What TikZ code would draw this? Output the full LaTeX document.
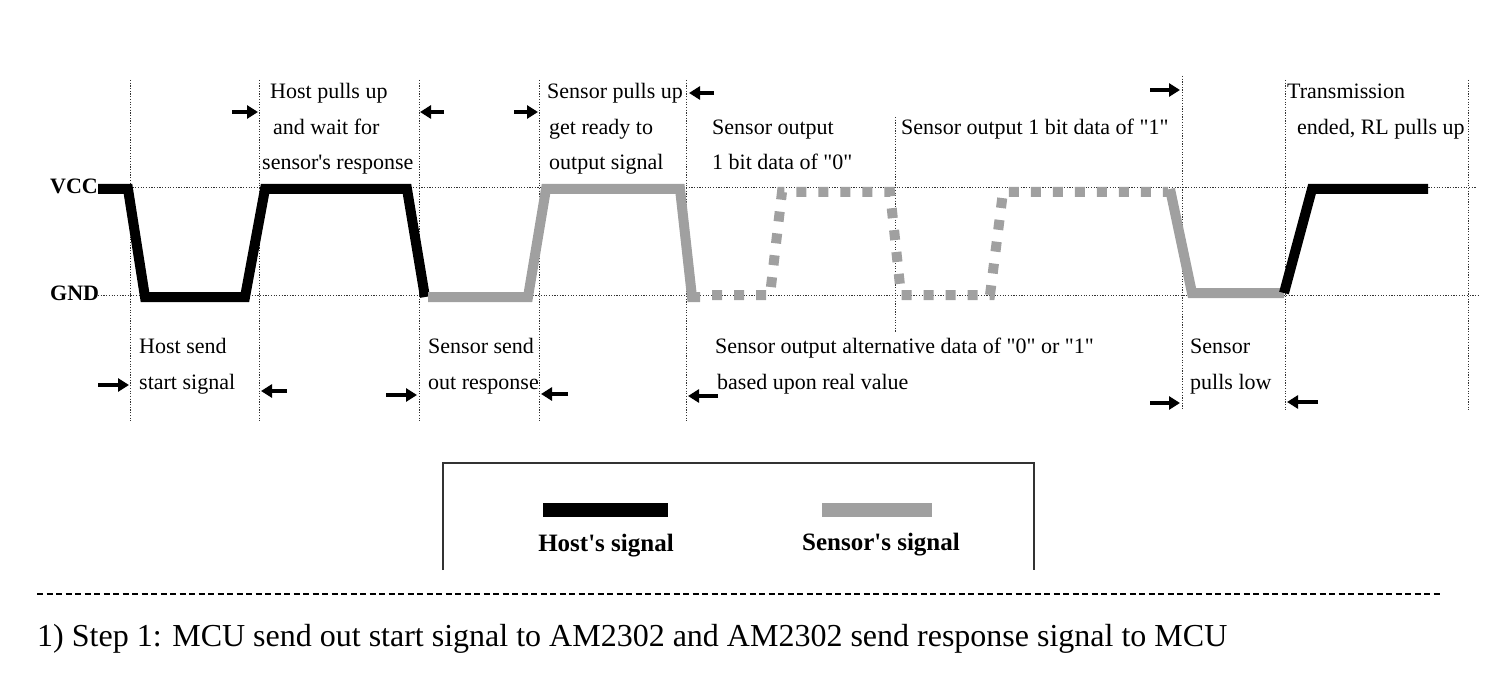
\documentclass[tikz,border=0pt]{standalone}
\usepackage{fontspec}
\setmainfont{Liberation Serif}
\usetikzlibrary{arrows.meta}
\definecolor{sgray}{RGB}{160,160,160}
\newcommand{\lbf}{\fontsize{22}{26}\selectfont}
\newcommand{\qq}{\textquotedbl}
\begin{document}
\begin{tikzpicture}[x=1pt,y=-1pt,
 host/.style={line width=10pt,black},
 sens/.style={line width=10pt,sgray},
 sensdot/.style={line width=10pt,sgray,dash pattern=on 10pt off 12pt},
 guide/.style={line width=0.9pt,black!80,dash pattern=on 1.2pt off 1.5pt},
 lbl/.style={anchor=base west,inner sep=0pt,font=\lbf},
 lvl/.style={anchor=base west,inner sep=0pt,font=\bfseries\fontsize{22}{26}\selectfont},
 darr/.style={line width=3.6pt,-{Triangle[length=11pt,width=13pt]}},
 leg/.style={anchor=base,inner sep=0pt,font=\bfseries\fontsize{25}{30}\selectfont},
]
\useasboundingbox (0,0) rectangle (1498,676);
% guides
\foreach \x/\a/\b in {130/80/422, 259/80/422, 419/80/422, 539/80/422, 686/80/422, 895/117/332, 1182/76/410, 1285/80/410, 1468/80/410}
  \draw[guide] (\x,\a) -- (\x,\b);
\node[lvl] (vcc) at (50,194) {VCC};
\node[lvl] (gnd) at (50,300) {GND};
\draw[guide] (100,187) -- (1476,187);
\draw[guide] (98,295) -- (1480,295);
% signals
\draw[host] (98,189) -- (128,189) -- (145,297) -- (245,297) -- (265,189) -- (407,189) -- (425,297);
\draw[sens] (428,297) -- (528,297) -- (546,189) -- (680,189) -- (692,297) -- (700,297);
\draw[sensdot] (712,295) -- (770,295) -- (782,192) -- (890,192) -- (901,295) -- (990,295) -- (1003,192) -- (1168,192);
\draw[sens] (1170,189) -- (1192,293) -- (1284,293);
\draw[host] (1284,293) -- (1312,189) -- (1428,189);
% arrows
\draw[darr] (232,112) -- (258,112);
\draw[darr] (444,112) -- (420,112);
\draw[darr] (514,112) -- (538,112);
\draw[darr] (714,93) -- (689,93);
\draw[darr] (1150,90) -- (1180,90);
\draw[darr] (98,385) -- (129,385);
\draw[darr] (287,391) -- (261,391);
\draw[darr] (386,395) -- (417,395);
\draw[darr] (568,394) -- (541,394);
\draw[darr] (718,396) -- (688,396);
\draw[darr] (1150,403) -- (1180,403);
\draw[darr] (1318,402) -- (1287,402);
% labels top
\node[lbl] (a1) at (270,99) {Host pulls up};
\node[lbl] (a2) at (273,135) {and wait for};
\node[lbl] (a3) at (262,170) {sensor\textquotesingle s response};
\node[lbl] (b1) at (547,99) {Sensor pulls up};
\node[lbl] (b2) at (549,135) {get ready to};
\node[lbl] (b3) at (549,170) {output signal};
\node[lbl] (c1) at (712,135) {Sensor output};
\node[lbl] (c2) at (712,170) {1 bit data of \qq0\qq};
\node[lbl] (d1) at (901,135) {Sensor output 1 bit data of \qq1\qq};
\node[lbl] (e1) at (1287,99) {Transmission};
\node[lbl] (e2) at (1297,135) {ended, RL pulls up};
% labels bottom
\node[lbl] (f1) at (139,353) {Host send};
\node[lbl] (f2) at (139,389) {start signal};
\node[lbl] (g1) at (428,353) {Sensor send};
\node[lbl] (g2) at (428,389) {out response};
\node[lbl] (h1) at (715,353) {Sensor output alternative data of \qq0\qq\ or \qq1\qq};
\node[lbl] (h2) at (717,389) {based upon real value};
\node[lbl] (k1) at (1190,353) {Sensor};
\node[lbl] (k2) at (1190,389) {pulls low};
% legend
\draw[line width=1.6pt,black!80] (443,570) -- (443,463) -- (1034,463) -- (1034,570);
\fill[black] (543,503) rectangle (668,517);
\fill[sgray] (822,503) rectangle (932,517);
\node[leg] (l1) at (606,551) {Host\textquotesingle s signal};
\node[leg] (l2) at (881,550) {Sensor\textquotesingle s signal};
% separator and caption
\draw[line width=2.6pt,dash pattern=on 6pt off 3.5pt] (37,594) -- (1440,594);
\node[anchor=base west,inner sep=0pt,font=\fontsize{32}{38}\selectfont] (cap) at (37,646) {1) Step 1: MCU send out start signal to AM2302 and AM2302 send response signal to MCU};
\end{tikzpicture}
\end{document}
